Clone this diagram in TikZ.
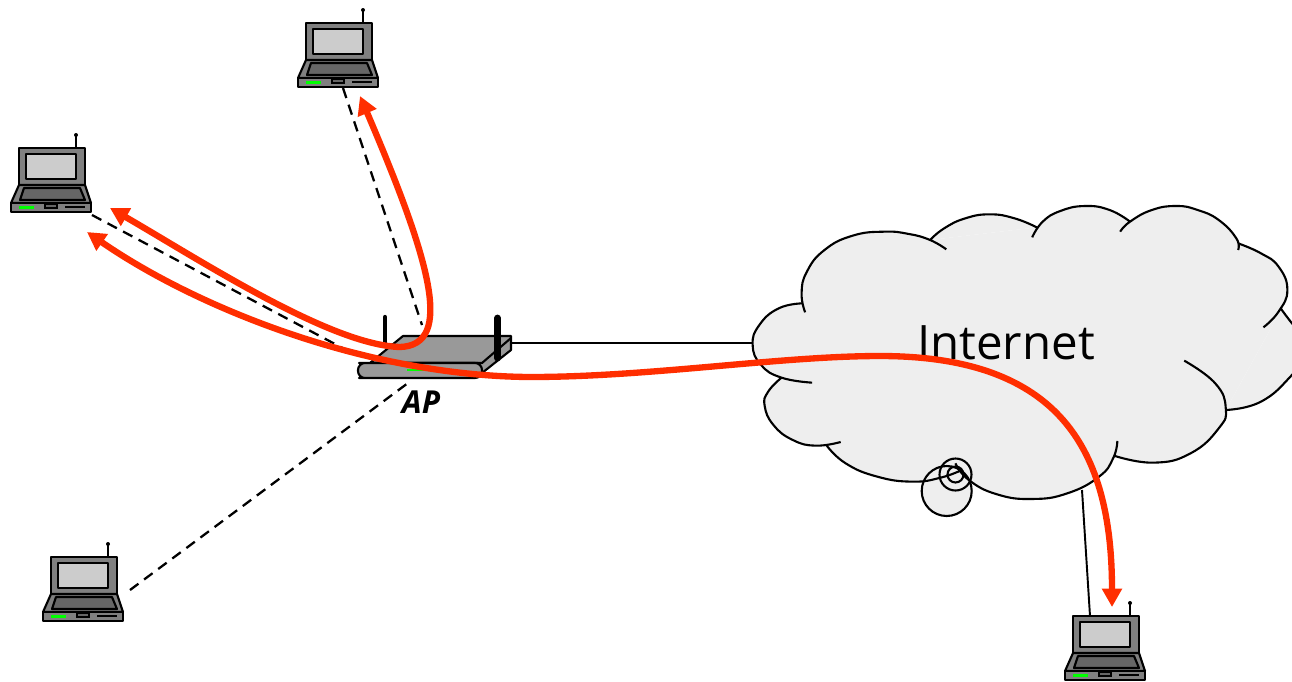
\documentclass[tikz,border=0pt]{standalone}
\usepackage{fontspec}
\setmainfont{Open Sans}
\usetikzlibrary{arrows.meta}
\definecolor{cloudgrey}{HTML}{EEEEEE}
\definecolor{routergrey}{HTML}{999999}
\definecolor{bodygrey}{HTML}{808080}
\definecolor{screengrey}{HTML}{CCCCCC}
\definecolor{keysgrey}{HTML}{666666}
\definecolor{flowred}{HTML}{FF2E00}
\tikzset{
	outline/.style={draw=black, line width=1.2pt, line join=round},
	radiolink/.style={line width=1.3pt, dash pattern=on 6pt off 4pt},
	wire/.style={line width=1.1pt},
	flow/.style={draw=flowred, line width=3.6pt, {Triangle[length=10.5pt,width=11pt]}-{Triangle[length=10.5pt,width=11pt]}},
}
\def\laptop(#1,#2){
	\begin{scope}[shift={(#1,#2)}]
		\draw[line width=1.1pt] (57,0) -- (57,-13);
		\fill (57,-13) circle (2);
		\draw[outline, fill=bodygrey] (0,0) rectangle (66,37);
		\draw[outline, fill=screengrey] (7,6) rectangle (57,31);
		\draw[outline, fill=bodygrey] (0,37) -- (66,37) -- (72,55) -- (-8,55) -- cycle;
		\draw[outline, fill=keysgrey] (5,40) -- (61,40) -- (66,52) -- (1,52) -- cycle;
		\draw[outline, fill=bodygrey] (-8,55) rectangle (72,64);
		\fill[green] (0,58) rectangle (15,61);
		\draw[line width=0.6pt, fill=keysgrey] (26,56) rectangle (38,60);
		\fill (46,58) rectangle (66,60);
	\end{scope}
}
\def\cloudlobes{
	plot[smooth, tension=0.8] coordinates {(586,163) (540,135) (480,117) (410,110) (320,122) (240,165) (190,230) (175,295) (185,352)}
	plot[smooth, tension=0.8] coordinates {(178,325) (110,340) (55,390) (36,450) (60,510) (118,548) (205,563)}
	plot[smooth, tension=0.8] coordinates {(118,548) (80,590) (70,632) (95,690) (150,735) (215,752) (286,741)}
	plot[smooth, tension=0.8] coordinates {(245,750) (300,805) (390,845) (490,860) (570,848) (630,825)}
	plot[smooth, tension=0.8] coordinates {(612,805) (650,855) (730,898) (830,912) (930,895) (1020,845) (1060,790) (1072,738)}
	plot[smooth, tension=0.8] coordinates {(1062,782) (1175,803) (1280,775) (1360,700) (1380,640) (1350,565) (1262,497)}
	plot[smooth, tension=0.8] coordinates {(1380,645) (1480,620) (1568,540) (1625,460) (1568,385) (1538,343)}
	plot[smooth, tension=0.8] coordinates {(1487,397) (1530,350) (1555,285) (1530,215) (1480,175) (1415,145)}
	plot[smooth, tension=0.8] coordinates {(1415,165) (1410,130) (1360,75) (1300,45) (1240,33) (1170,45) (1108,80) (1080,110)}
	plot[smooth, tension=0.8] coordinates {(1108,80) (1050,45) (980,33) (910,48) (860,80) (830,127)}
	plot[smooth, tension=0.8] coordinates {(843,97) (780,70) (710,58) (640,70) (580,100) (540,135)}
}

\begin{document}
\begin{tikzpicture}[x=0.02cm, y=-0.02cm]
	\useasboundingbox (0,0) rectangle (1292,681);
	\clip (0,0) rectangle (1292,681);
	
	% end points of the links
	\coordinate (topport) at (343,88);
	\coordinate (leftport) at (92,215);
	\coordinate (lowport) at (130,590);
	\coordinate (apnorth) at (422,325);
	\coordinate (apwest) at (350,352);
	\coordinate (apsouth) at (408,383);
	\coordinate (apeast) at (511,343);
	\coordinate (cloudwest) at (752,343);
	\coordinate (cloudsouth) at (1082,490);
	\coordinate (serverport) at (1090,616);
	
	\draw[radiolink] (topport) -- (apnorth);
	\draw[radiolink] (leftport) -- (apwest);
	\draw[radiolink] (lowport) -- (apsouth);
	\draw[wire] (apeast) -- (cloudwest);
	\draw[wire] (cloudsouth) -- (serverport);
	
	\laptop(306,23)
	\laptop(19,148)
	\laptop(51,557)
	\laptop(1073,616)
	
	% cloud
	\begin{scope}[shift={(740,195)}, xscale=0.352, yscale=0.3333]
		\fill[cloudgrey] (178,325) -- (118,548) -- (245,750) -- (650,855) -- (1020,845) -- (1062,782) -- (1380,645) -- (1538,343) -- (1415,145) -- (1108,80) -- (843,97) -- (540,135) -- cycle;
		\fill[cloudgrey] \cloudlobes;
	\end{scope}
	\draw[outline, fill=cloudgrey] (946.7,491) circle (25);
	\draw[outline] (955.5,474.5) circle (16);
	\draw[outline] (955.5,474.5) circle (8);
	\begin{scope}[shift={(740,195)}, xscale=0.352, yscale=0.3333]
		\draw[line width=1.2pt] \cloudlobes;
	\end{scope}
	\node[font=\fontsize{27}{30}\selectfont, inner sep=0pt] (internet) at (1006,343) {Internet};
	
	% access point
	\draw[outline, fill=routergrey] (403,336) -- (511,336) -- (511,350) -- (482,373) -- (478,363) -- (370,363) -- cycle;
	\draw[outline] (511,338) -- (482,363) -- (370,363);
	\draw[outline, fill=routergrey, rounded corners=4pt] (366,363) -- (482,363) -- (482,378) -- (366,378) -- (358,378) -- (358,363) -- cycle;
	\draw[green, line width=1pt] (407,370) -- (430,370);
	\draw[line width=2.5pt, line cap=round] (385,317) -- (385,345);
	\draw[line width=3.9pt, line cap=round] (497.5,318) -- (497.5,358);
	\node[font=\fontsize{18}{20}\selectfont\bfseries\itshape, inner sep=0pt] (ap) at (421,402) {AP};
	
	% traffic
	\coordinate (lefttip) at (110,208);
	\coordinate (toptip) at (360,96);
	\coordinate (lowtip) at (87,232);
	\coordinate (servertip) at (1112,607);
	\coordinate (bend) at (400,347);
	\coordinate (dip) at (530,377);
	\coordinate (crest) at (880,356);
	\draw[flow] (lefttip) .. controls (200,260) and (330,345) .. (bend) .. controls (455,345) and (430,260) .. (toptip);
	\draw[flow] (lowtip) .. controls (200,310) and (370,376) .. (dip) .. controls (650,377) and (780,356) .. (crest) .. controls (1060,356) and (1112,450) .. (servertip);
\end{tikzpicture}
\end{document}
